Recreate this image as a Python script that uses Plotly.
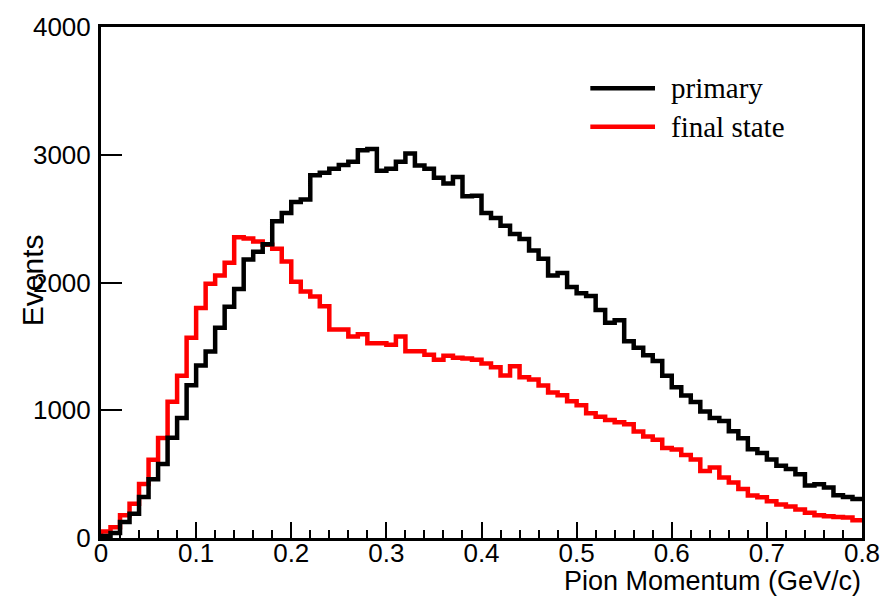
import plotly.graph_objects as go

# Pion momentum spectra, 80 bins of 0.01 GeV/c from 0 to 0.8
bin_width = 0.01
n_bins = 80
x_min, x_max = 0.0, 0.8

primary = [
    15, 40, 125, 190, 320, 460, 580, 785, 940, 1195,
    1350, 1460, 1645, 1810, 1950, 2180, 2240, 2300, 2480, 2545,
    2630, 2650, 2840, 2860, 2890, 2920, 2945, 3035, 3045, 2875,
    2890, 2945, 3010, 2915, 2890, 2820, 2775, 2825, 2675, 2680,
    2545, 2505, 2445, 2380, 2340, 2250, 2185, 2055, 2075, 1965,
    1915, 1895, 1785, 1685, 1705, 1540, 1490, 1430, 1385, 1270,
    1180, 1115, 1065, 990, 940, 915, 835, 780, 695, 665,
    615, 565, 540, 500, 410, 420, 395, 335, 320, 305,
]

final_state = [
    50, 85, 178, 268, 422, 612, 782, 1066, 1271, 1568,
    1800, 1990, 2055, 2155, 2355, 2345, 2320, 2295, 2265, 2165,
    2005, 1930, 1890, 1815, 1633, 1633, 1577, 1595, 1525, 1525,
    1512, 1577, 1461, 1461, 1435, 1396, 1426, 1410, 1405, 1396,
    1365, 1336, 1272, 1344, 1259, 1241, 1194, 1138, 1117, 1071,
    1040, 976, 950, 924, 906, 890, 834, 795, 770, 705,
    692, 649, 615, 525, 551, 474, 435, 384, 332, 319,
    288, 262, 247, 224, 198, 178, 170, 165, 160, 139,
]

series_names = ["primary", "final state"]
series_colors = ["#000000", "#ff0000"]

x_ticks = [0, 0.1, 0.2, 0.3, 0.4, 0.5, 0.6, 0.7, 0.8]
x_tick_text = ["0", "0.1", "0.2", "0.3", "0.4", "0.5", "0.6", "0.7", "0.8"]
y_ticks = [0, 1000, 2000, 3000, 4000]
y_tick_text = ["0", "1000", "2000", "3000", "4000"]

x_title = "Pion Momentum (GeV/c)"
y_title = "Events"

low_edges = [round(i * bin_width, 4) for i in range(n_bins)]


def step_outline(values):
    """Histogram outline: rise from zero at the first edge, end at the last edge."""
    xs = [x_min] + low_edges + [x_max]
    ys = [0] + list(values) + [values[-1]]
    return xs, ys


fig = go.Figure()
# red drawn first so the black curve sits on top where they cross
for name, vals, col in [(series_names[1], final_state, series_colors[1]),
                        (series_names[0], primary, series_colors[0])]:
    xs, ys = step_outline(vals)
    fig.add_trace(go.Scatter(
        x=xs, y=ys, mode="lines", name=name,
        line=dict(color=col, width=4.5, shape="hv"),
        showlegend=False, hoverinfo="skip",
    ))

sans = "Liberation Sans, Arial, sans-serif"
tick_font = dict(family=sans, size=26, color="#000")

fig.update_layout(
    width=895, height=600,
    margin=dict(l=101, r=33, t=20, b=62),
    paper_bgcolor="white", plot_bgcolor="white",
    xaxis=dict(
        range=[x_min, x_max], tickmode="array", tickvals=x_ticks, ticktext=x_tick_text,
        ticks="inside", ticklen=16, tickwidth=2, tickcolor="#000",
        minor=dict(dtick=0.02, ticks="inside", ticklen=8, tickwidth=2, tickcolor="#000"),
        showline=True, linecolor="#000", linewidth=3, mirror=True,
        showgrid=False, zeroline=False, tickfont=tick_font, ticklabelstandoff=-10,
    ),
    yaxis=dict(
        range=[0, 4000], tickmode="array", tickvals=y_ticks, ticktext=y_tick_text,
        ticks="inside", ticklen=21, tickwidth=2, tickcolor="#000",
        showline=True, linecolor="#000", linewidth=3, mirror=True,
        showgrid=False, zeroline=False, tickfont=tick_font, ticklabelstandoff=2,
    ),
)

# axis titles
fig.add_annotation(
    text=x_title, xref="x", yref="paper", x=x_max, y=-0.085,
    xanchor="right", yanchor="middle", showarrow=False, borderpad=0,
    font=dict(family=sans, size=27, color="#000"),
)
fig.add_annotation(
    text=y_title, xref="paper", yref="paper", x=-0.089, y=0.505,
    xanchor="center", yanchor="middle", textangle=-90, showarrow=False,
    font=dict(family=sans, size=30, color="#000"),
)

# legend box: line sample followed by label
legend_font = dict(family="Liberation Serif, Times New Roman, serif", size=29, color="#000")
legend_rows = [(series_names[0], series_colors[0], 0.880), (series_names[1], series_colors[1], 0.805)]
for name, col, ypos in legend_rows:
    fig.add_shape(
        type="line", xref="paper", yref="paper",
        x0=0.643, x1=0.728, y0=ypos, y1=ypos,
        line=dict(color=col, width=4.5),
    )
    fig.add_annotation(
        text=name, xref="paper", yref="paper", x=0.746, y=ypos,
        xanchor="left", yanchor="middle", showarrow=False, font=legend_font,
    )

fig.write_html("out.html")
